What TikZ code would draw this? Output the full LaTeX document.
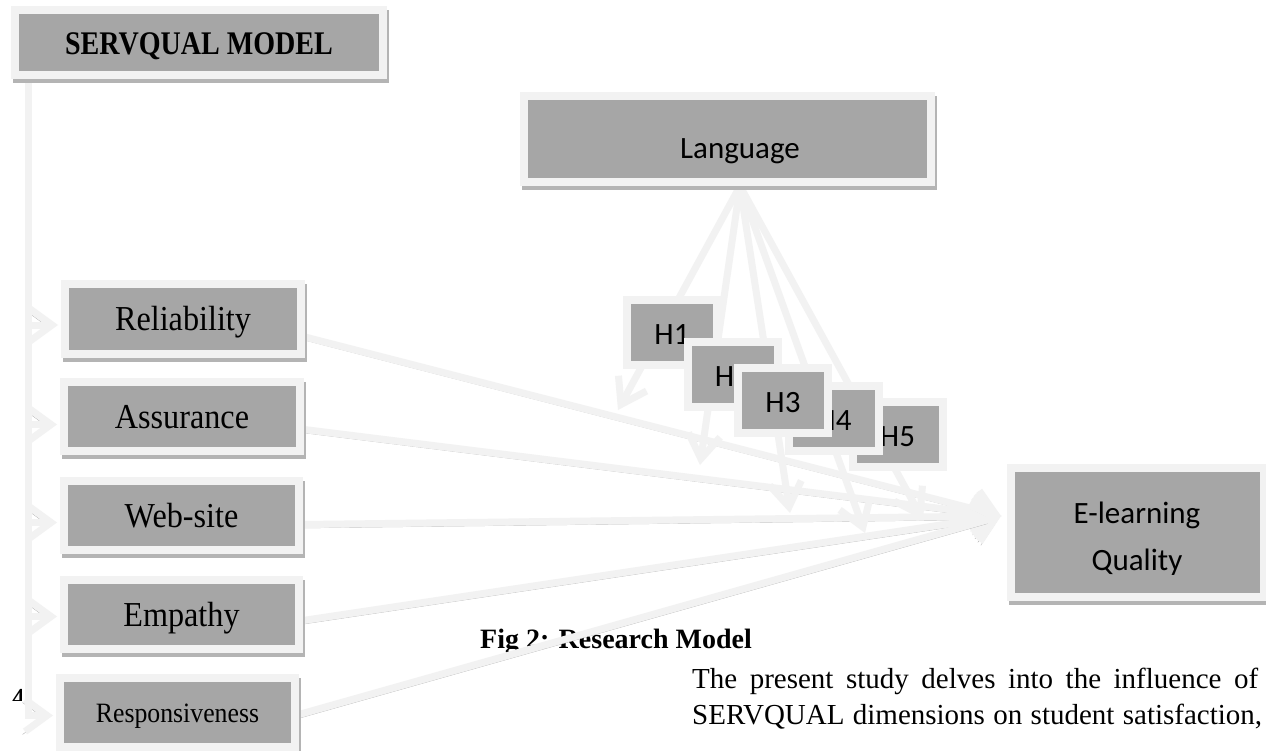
\documentclass[tikz,border=0pt]{standalone}
\usepackage{fontspec}
\setmainfont{Liberation Serif}
\newfontfamily\lblserif[FakeStretch=0.92]{Liberation Serif}
\newfontfamily\headserif[FakeStretch=0.85]{Liberation Serif}
\newfontfamily\lblsans{Carlito}
\usetikzlibrary{arrows.meta,calc}

\definecolor{lite}{HTML}{F2F2F2}
\definecolor{boxgray}{HTML}{A6A6A6}
\definecolor{shadc}{HTML}{B4B4B4}

\pgfdeclarelayer{back}
\pgfdeclarelayer{wires}
\pgfsetlayers{back,wires,main}

\tikzset{
  panel/.style={draw=lite, fill=boxgray, line width=8pt, inner sep=0pt, text=black},
  shadowed/.style={preaction={draw=shadc, fill=shadc, line width=8pt,
      transform canvas={shift={(2pt,-4pt)}}}},
  sz/.style 2 args={minimum width=#1pt, minimum height=#2pt},
  serlbl/.style={font=\lblserif\fontsize{35}{42}\selectfont, text height=23pt, text depth=0pt},
  hbox/.style={panel, sz={90}{65}, font=\lblsans\fontsize{31}{37}\selectfont,
      text height=24pt, text depth=0pt},
  elbow/.style={draw=lite, line width=7pt,
      -{Straight Barb[length=22pt, width=32pt]}, shorten >=3pt,
      preaction={draw=shadc, transform canvas={shift={(-2.5pt,-3pt)}}}},
  link/.style={draw=lite, line width=7pt,
      -{Straight Barb[length=22pt, width=38pt]},
      preaction={draw=shadc, transform canvas={shift={(1pt,-3.5pt)}}}},
  moder/.style={draw=lite, line width=7pt,
      -{Straight Barb[length=24pt, width=32pt]}},
}

\begin{document}
\begin{tikzpicture}[x=1pt,y=-1pt]
\begin{pgfonlayer}{back}
  \fill[white] (0,0) rectangle (1266,751);
  % caption and running text
  \node[anchor=base west, inner sep=0pt, font=\bfseries\fontsize{28}{33}\selectfont]
    (cap) at (480,648) {Fig 2: Research Model};
  \node[anchor=base west, inner sep=0pt, font=\fontsize{29}{36}\selectfont]
    (para1) at (692,688) {\makebox[566pt][s]{The present study delves into the influence of}};
  \node[anchor=base west, inner sep=0pt, font=\fontsize{29}{36}\selectfont]
    (para2) at (692,724) {\makebox[570pt][s]{SERVQUAL dimensions on student satisfaction,}};
  % page number, mostly hidden behind the tree trunk
  \begin{scope}
    \clip (8,672) rectangle (21,700);
    \node[anchor=base west, inner sep=0pt, font=\bfseries\fontsize{26}{30}\selectfont]
      (pgno) at (12,706) {4};
  \end{scope}
\end{pgfonlayer}
\useasboundingbox (0,0) rectangle (1266,751);

% SERVQUAL header
\node[panel, shadowed, sz={368}{65}, font=\headserif\bfseries\fontsize{33}{40}\selectfont,
      text height=24pt, text depth=0pt] (serv) at (199,42.5) {SERVQUAL MODEL};

% dimensions
\node[panel, shadowed, sz={236}{70}, serlbl] (rel)  at (183,319)   {Reliability};
\node[panel, shadowed, sz={236}{69}, serlbl] (ass)  at (182,416.5) {Assurance};
\node[panel, shadowed, sz={235}{69}, serlbl] (web)  at (181.5,515.5) {Web-site};
\node[panel, shadowed, sz={235}{69}, serlbl] (emp)  at (181.5,614.5) {Empathy};
\node[panel, shadowed, sz={235}{69}, font=\lblserif\fontsize{28}{34}\selectfont,
      text height=19pt, text depth=0pt] (resp) at (177.5,712.5) {Responsiveness};

% moderator
\node[panel, shadowed, sz={407}{86}] (lang) at (727.5,139) {};
\node[anchor=base, inner sep=0pt, font=\lblsans\fontsize{31}{37}\selectfont]
  (langt) at (740,159) {Language};

% outcome
\node[panel, shadowed, sz={253}{129}] (elq) at (1137.5,532.5) {};
\node[anchor=base, inner sep=0pt, font=\lblsans\fontsize{31}{37}\selectfont]
  (elqa) at (1137,523) {E-learning};
\node[anchor=base, inner sep=0pt, font=\lblsans\fontsize{31}{37}\selectfont]
  (elqb) at (1137,570) {Quality};

% connector end points
\coordinate (trunk) at (28,78);
\coordinate (lsrc) at (740,186);
\coordinate (etip) at (1001,516);
\coordinate (t1) at (618,410);
\coordinate (t2) at (700,465);
\coordinate (t3) at (790,513);
\coordinate (t4) at (865,533);
\coordinate (t5) at (923,520);

\begin{pgfonlayer}{wires}
  % SERVQUAL tree
  \foreach \b/\dy in {rel/6, ass/8, web/7, emp/2, resp/3}
    \draw[elbow] (trunk) |- ($(\b.west)+(0,\dy)$);
  % dimensions to e-learning quality
  \draw[link] ($(rel.east)+(0,18)$)  -- (etip);
  \draw[link] ($(ass.east)+(0,13)$)  -- (etip);
  \draw[link] ($(web.east)+(0,9)$)   -- (etip);
  \draw[link] ($(emp.east)+(0,6)$)   -- (etip);
  \draw[link] ($(resp.east)+(0,2)$)  -- (etip);
  % moderating paths
  \foreach \t in {t1,t2,t3,t4,t5}
    \draw[moder] (lsrc) -- (\t);
\end{pgfonlayer}

% hypothesis labels
\node[hbox] (h1) at (672,332.5) {H1};
\node[hbox] (h2) at (732.5,374.5) {H2};
\node[hbox] (h5) at (897.5,434.5) {H5};
\node[hbox] (h4) at (834,418.5) {H4};
\node[hbox] (h3) at (783,400) {H3};
\end{tikzpicture}
\end{document}
